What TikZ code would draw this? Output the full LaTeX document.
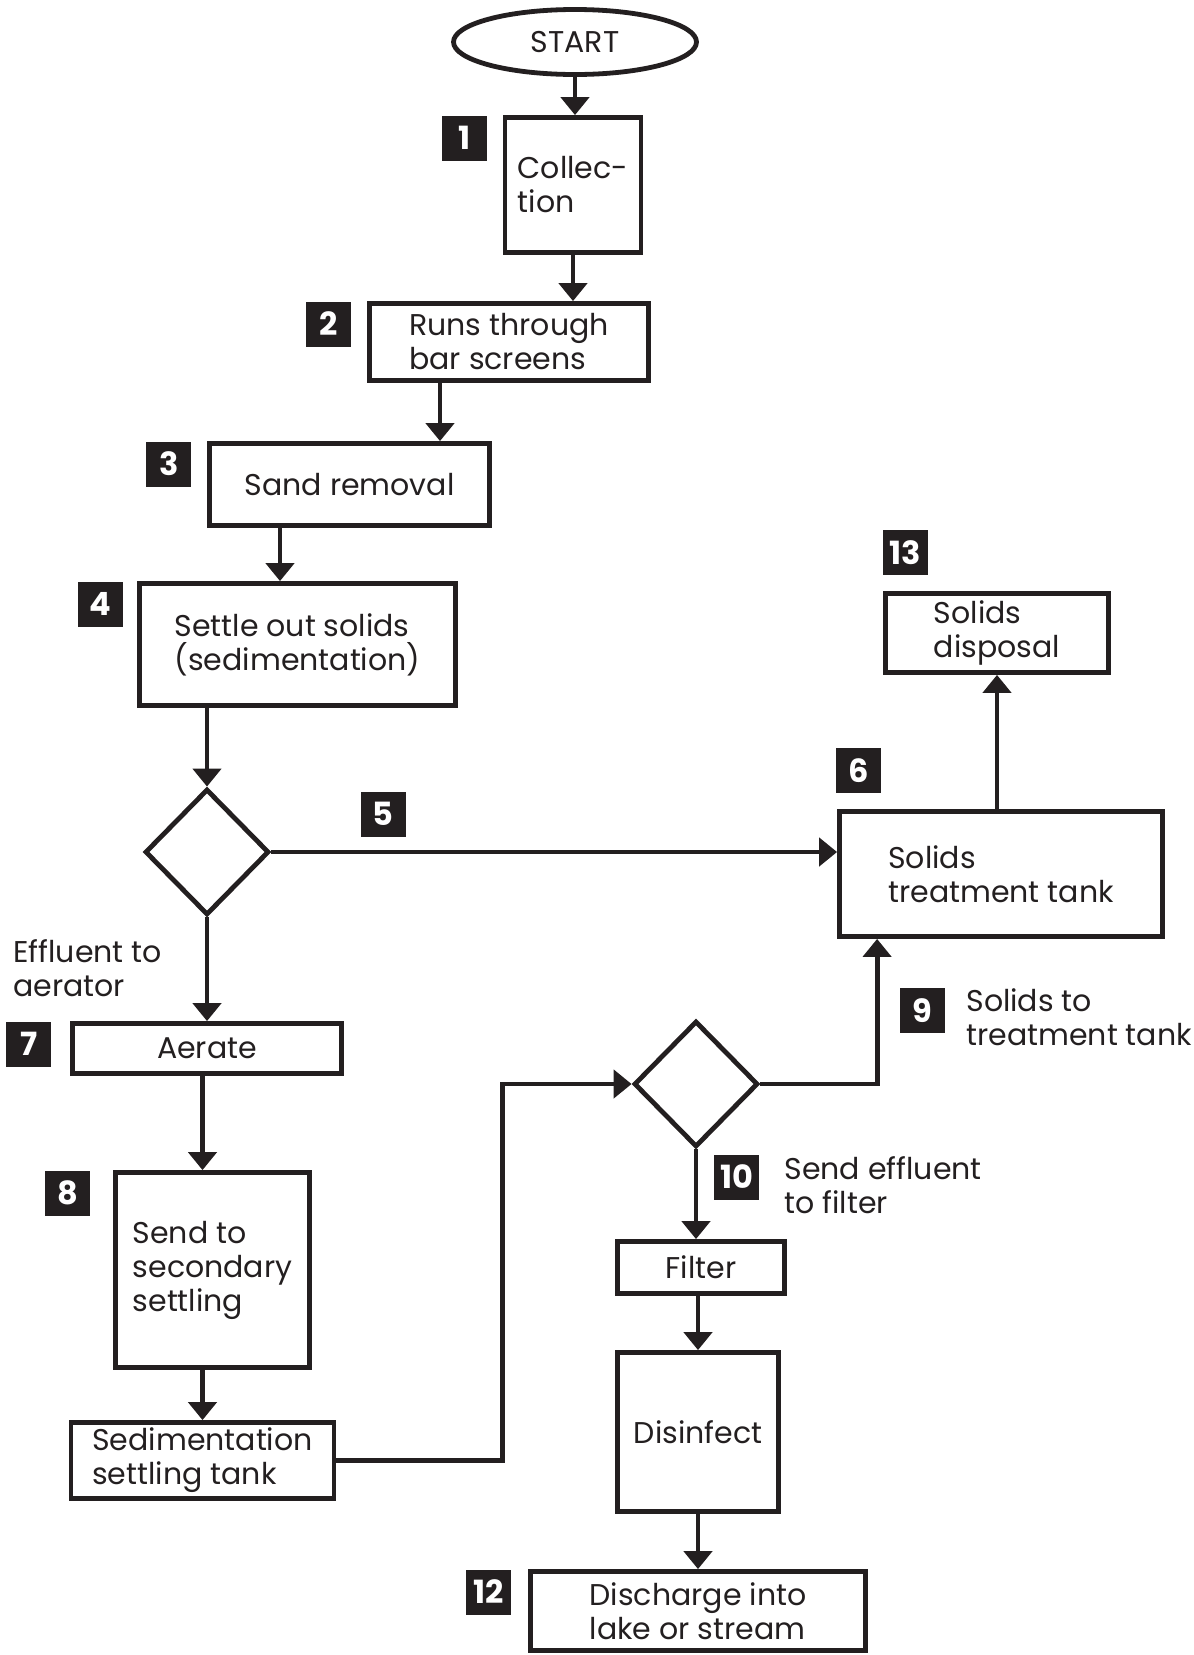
\documentclass[tikz,border=0pt]{standalone}
\usepackage{fontspec}
\setmainfont{Poppins}
\usetikzlibrary{arrows.meta,positioning,calc}
\usetikzlibrary{shapes.geometric}
\definecolor{ink}{HTML}{231F20}

\begin{document}
\begin{tikzpicture}[x=0.5pt,y=-0.5pt,color=ink,line width=2.4pt,
    font=\fontsize{15pt}{17pt}\selectfont,
    box/.style={draw,rectangle,align=left,inner sep=0pt},
    dia/.style={draw,diamond,inner sep=0pt,minimum width=62pt,minimum height=63pt},
    num/.style={fill=ink,text=white,minimum size=22.5pt,inner sep=0pt,font=\fontsize{16pt}{16pt}\selectfont\bfseries},
    lbl/.style={align=left,inner sep=0pt,anchor=west},
    arr/.style={-{Triangle[width=14pt,length=9pt]}}]
      \useasboundingbox (0,0) rectangle (1194,1655);

      \node[draw,ellipse,inner sep=0pt,minimum width=121.5pt,minimum height=32.5pt] (s) at (575,42) {START};
      \node[box,minimum width=68pt,minimum height=67.5pt] (c1) at (573,185) {Collec-\\tion};
      \node[box,minimum width=139.5pt,minimum height=38.5pt] (c2) at (509,342) {Runs through\\bar screens};
      \node[box,minimum width=140pt,minimum height=41pt] (c3) at (349.5,484.5) {Sand removal};
      \node[box,minimum width=158pt,minimum height=61pt] (c4) at (297.5,644.5) {Settle out solids\\(sedimentation)};
      \node[dia] (d5) at (207,852) {};
      \node[box,minimum width=161.5pt,minimum height=62.5pt] (c6) at (1001,874) {Solids\\treatment tank};
      \node[box,minimum width=111.5pt,minimum height=39.5pt] (c13) at (997,633) {Solids\\disposal};
      \node[box,minimum width=134.5pt,minimum height=25pt] (c7) at (207,1048.5) {Aerate};
      \node[box,minimum width=97pt,minimum height=97.5pt] (c8) at (212.5,1270) {Send to\\secondary\\settling};
      \node[box,minimum width=131.5pt,minimum height=38pt] (st) at (202.5,1460.5) {Sedimentation\\settling tank};
      \node[dia] (d9) at (696,1084) {};
      \node[box,minimum width=83.5pt,minimum height=26pt] (c10) at (701,1267.5) {Filter};
      \node[box,minimum width=80.5pt,minimum height=79.5pt] (c11) at (698,1432) {Disinfect};
      \node[box,minimum width=167.5pt,minimum height=39.5pt] (c12) at (698,1611) {Discharge into\\lake or stream};

      % step numbers
      \node[num,below left=-1pt and 6.75pt of c1.north west] (n1) {1};
      \node[num,below left=-1pt and 6.75pt of c2.north west] (n2) {2};
      \node[num,below left=-1pt and 6.75pt of c3.north west] (n3) {3};
      \node[num,below left=-1pt and 5.75pt of c4.north west] (n4) {4};
      \node[num] (n5) at (383,814) {5};
      \node[num,above right=6.75pt and -1.75pt of c6.north west] (n6) {6};
      \node[num,below left=-1pt and 8.25pt of c7.north west] (n7) {7};
      \node[num,below left=-1pt and 10.25pt of c8.north west] (n8) {8};
      \node[num] (n9) at (922.5,1010.5) {9};
      \node[num] (n10) at (736.5,1177) {10};
      \node[num,below left=-1pt and 7.25pt of c12.north west] (n12) {12};
      \node[num,above right=6.75pt and -1.25pt of c13.north west] (n13) {13};

      \node[lbl] (l7) at (11,968) {Effluent to\\aerator};
      \node[lbl] (l9) at (964,1017) {Solids to\\treatment tank};
      \node[lbl] (l10) at (782,1185) {Send effluent\\to filter};

      \coordinate (k2) at ([xshift=-34.5pt]c2.south);
      \coordinate (k3) at ([xshift=-34.75pt]c3.south);
      \coordinate (k6) at ($(c6.south west)+(40,0)$);

      \draw[arr] (s.south)--(s.south |- c1.north);
      \draw[arr] (c1.south)--(c1.south |- c2.north);
      \draw[arr] (k2)--(k2 |- c3.north);
      \draw[arr] (k3)--(k3 |- c4.north);
      \draw[arr] (d5.north |- c4.south)--(d5.north);
      \draw[arr] (d5.east)--(d5.east -| c6.west);
      \draw[arr] (c13.south |- c6.north)--(c13.south);
      \draw[arr] (d5.south)--(c7.north);
      \draw[arr] (c7.south -| st.north)--(st.north |- c8.north);
      \draw[arr] (c8.south -| st.north)--(st.north);
      \draw[arr] (st.east)--++(166,0) |- (d9.west);
      \draw[arr] (d9.east) -| (k6);
      \draw[arr] (d9.south)--(d9.south |- c10.north);
      \draw[arr] (c11.north |- c10.south)--(c11.north);
      \draw[arr] (c11.south)--(c12.north);
    \end{tikzpicture}
\end{document}
